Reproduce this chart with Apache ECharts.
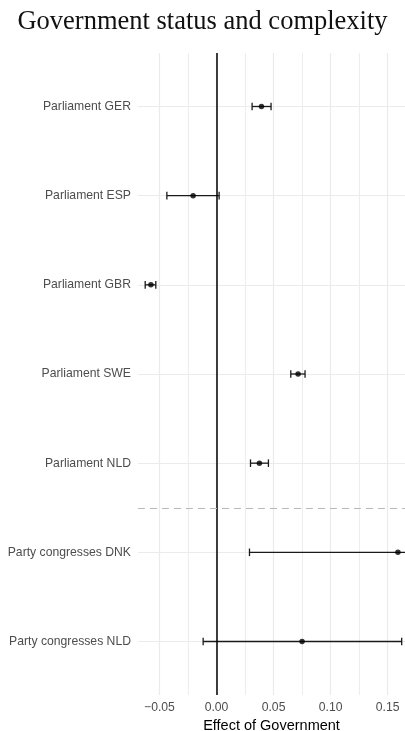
<!DOCTYPE html>
<html>
<head>
<meta charset="utf-8">
<script src="https://cdn.jsdelivr.net/npm/echarts@6/dist/echarts.min.js"></script>
<style>html,body{margin:0;padding:0;background:#fff;}#c{width:405px;height:731px;}</style>
</head>
<body>
<div id="c"></div>
<script>
var categories = ["Parliament GER","Parliament ESP","Parliament GBR","Parliament SWE","Parliament NLD","Party congresses DNK","Party congresses NLD"];
var estimates = [0.0394,-0.0205,-0.0575,0.0715,0.0376,0.159,0.075];
var lower = [0.0312,-0.0435,-0.0625,0.0651,0.0298,0.0289,-0.0117];
var upper = [0.0478,0.0023,-0.0532,0.0776,0.0455,0.289,0.1623];
var majorTicks = [-0.05,0,0.05,0.1,0.15];
var minorTicks = [-0.025,0.025,0.075,0.125];
var separatorY = 5.5;

var chart = echarts.init(document.getElementById('c'));
var rows = [1,2,3,4,5,6,7];
var barData = categories.map(function(c,i){return [lower[i],upper[i],i+1];});
var ptData = categories.map(function(c,i){return [estimates[i],i+1];});
function fmt(v){var s=Math.abs(v).toFixed(2);return v<0?'\u2212'+s:s;}
var xMin=-0.0688, xMax=0.1652;
chart.setOption({
  animation:false,
  title:{text:'Government status and complexity',left:'center',top:4,
    textStyle:{fontFamily:'Liberation Serif',fontWeight:'normal',fontSize:26.5,color:'#111'}},
  grid:{left:138,right:0,top:53,bottom:36,containLabel:false,outerBoundsMode:'none'},
  xAxis:[{
    type:'value',min:xMin,max:xMax,
    name:'Effect of Government',nameLocation:'middle',nameGap:18,
    nameTextStyle:{fontFamily:'Liberation Sans',fontSize:14.5,color:'#000'},
    axisLine:{show:false},
    axisTick:{show:false,customValues:majorTicks},
    axisLabel:{customValues:majorTicks,formatter:fmt,color:'#4d4d4d',fontFamily:'Liberation Sans',fontSize:12.2,margin:7},
    splitLine:{show:true,lineStyle:{color:'#ebebeb',width:1.2}}
  },{
    type:'value',min:xMin,max:xMax,position:'bottom',
    axisLine:{show:false},
    axisTick:{show:false,customValues:minorTicks},
    axisLabel:{show:false,customValues:minorTicks},
    splitLine:{show:true,lineStyle:{color:'#ededed',width:1.1}}
  }],
  yAxis:{
    type:'value',inverse:true,min:0.4,max:7.6,
    axisLine:{show:false},
    axisTick:{show:false,customValues:rows},
    axisLabel:{customValues:rows,formatter:function(v){return categories[Math.round(v)-1]||'';},
      color:'#4d4d4d',fontFamily:'Liberation Sans',fontSize:12.2,margin:7},
    splitLine:{show:true,lineStyle:{color:'#ebebeb',width:1.2}}
  },
  series:[{
    type:'custom',clip:true,
    data:barData,
    encode:{x:[0,1],y:2},
    renderItem:function(params,api){
      var y=api.value(2);
      var a=api.coord([api.value(0),y]);
      var b=api.coord([api.value(1),y]);
      var h=3.8;
      var st={stroke:'#1a1a1a',lineWidth:1.3};
      return {type:'group',children:[
        {type:'line',shape:{x1:a[0],y1:a[1],x2:b[0],y2:b[1]},style:st},
        {type:'line',shape:{x1:a[0],y1:a[1]-h,x2:a[0],y2:a[1]+h},style:st},
        {type:'line',shape:{x1:b[0],y1:b[1]-h,x2:b[0],y2:b[1]+h},style:st}
      ]};
    },
    z:3
  },{
    type:'scatter',data:ptData,symbolSize:5.5,itemStyle:{color:'#000'},z:4,
    markLine:{silent:true,symbol:'none',label:{show:false},animation:false,
      data:[
        {xAxis:0,lineStyle:{color:'#000',width:1.5,type:'solid'}},
        {yAxis:separatorY,lineStyle:{color:'#b8b8b8',width:1.2,type:[7,5]}}
      ]}
  }]
});
</script>
</body>
</html>
